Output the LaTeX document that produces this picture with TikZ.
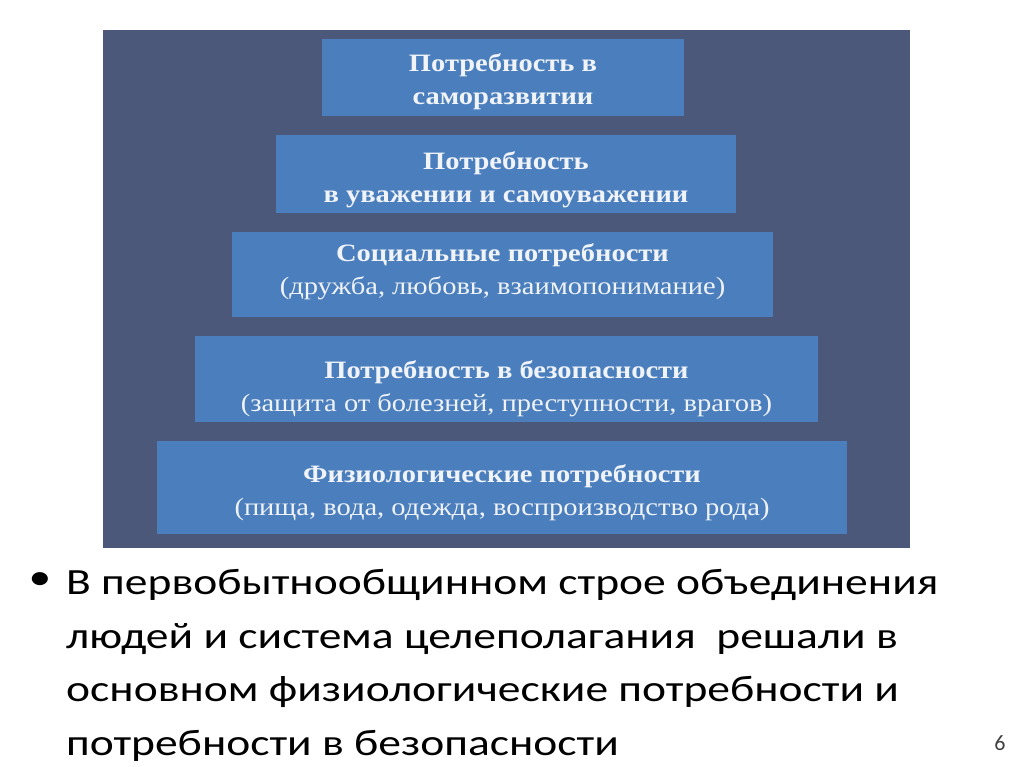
\documentclass[tikz,border=0pt]{standalone}
\usepackage{fontspec}
\setmainfont{Carlito}
\newfontfamily\boxfont{Liberation Serif}[FakeStretch=1.14]
\newfontfamily\notefont{Carlito}[FakeStretch=1.23]
\definecolor{panelbg}{RGB}{76,88,121}
\definecolor{levelblue}{RGB}{74,126,189}
\definecolor{boxtext}{RGB}{240,243,248}
\begin{document}
\begin{tikzpicture}[x=1pt,y=-1pt,
    level/.style={fill=levelblue, text=boxtext, align=center, inner sep=0pt, text depth=0pt,
      font=\boxfont\fontsize{25}{33}\selectfont}]

      \fill[white] (0,0) rectangle (1024,767);
      \useasboundingbox (0,0) rectangle (1024,767);
       \fill[panelbg] (103,30) rectangle (910,548);

       % pyramid levels, top to bottom
         \node[level, minimum width=362pt, minimum height=77.5pt, text height=54pt] (selfdev) at (503,77.3)
           {\bfseries Потребность в\\\bfseries саморазвитии};
         \node[level, minimum width=460pt, minimum height=78pt, text height=58pt] (esteem) at (506,174)
           {\bfseries Потребность\\\bfseries в уважении и самоуважении};
         \node[level, minimum width=541pt, minimum height=85pt, text height=40pt] (social) at (502.5,274.8)
           {\bfseries Социальные потребности\\(дружба, любовь, взаимопонимание)};
         \node[level, minimum width=623pt, minimum height=86pt, text height=64pt] (safety) at (506.5,379)
           {\bfseries Потребность в безопасности\\(защита от болезней, преступности, врагов)};
         \node[level, minimum width=690pt, minimum height=93.5pt, text height=57pt] (physio) at (502,487.3)
           {\bfseries Физиологические потребности\\(пища, вода, одежда, воспроизводство рода)};

       % bullet text
         \node[font=\notefont\fontsize{37}{53.5}\selectfont] (dot) at (40,581) {•};
         \node[anchor=base west, align=left, inner sep=0pt,
           font=\notefont\fontsize{37}{53.5}\selectfont] (note) at (66,755)
           {В первобытнообщинном строе объединения\\
            людей и система целеполагания\ \ решали в\\
            основном физиологические потребности и\\
            потребности в безопасности};
         \node[font=\fontsize{22}{26}\selectfont, text=black!75] (pagenum) at (1000,743) {6};

\end{tikzpicture}
\end{document}
